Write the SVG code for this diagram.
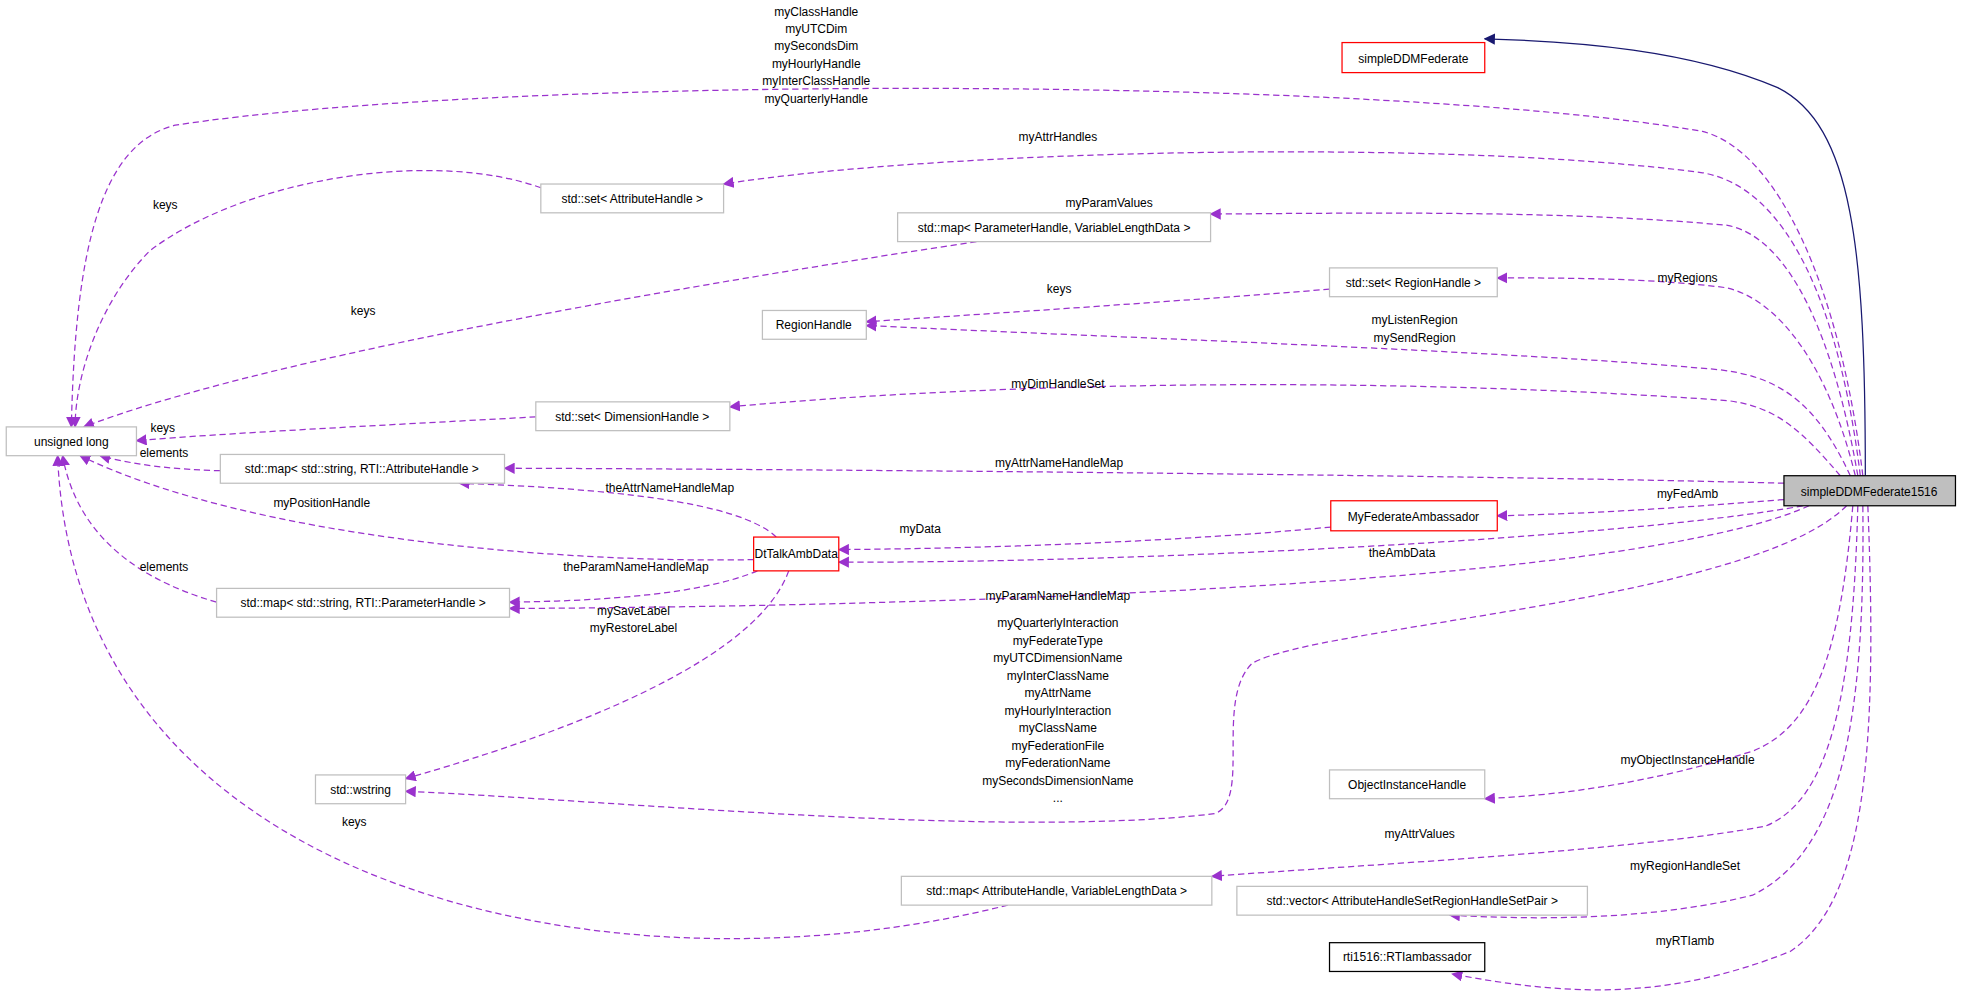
<svg xmlns="http://www.w3.org/2000/svg" width="1963" height="1002" viewBox="0 0 1963 1002">
<defs>
<marker id="ap" viewBox="0 0 10 10" refX="9" refY="5" markerWidth="9" markerHeight="9" orient="auto-start-reverse" markerUnits="userSpaceOnUse"><path d="M0,0 L10,5 L0,10 z" fill="#9a32cd"/></marker>
<marker id="an" viewBox="0 0 10 10" refX="9" refY="5" markerWidth="9" markerHeight="9" orient="auto" markerUnits="userSpaceOnUse"><path d="M0,0 L10,5 L0,10 z" fill="#191970"/></marker>
<style>
text{font-family:"Liberation Sans",Arial,sans-serif;font-size:9.6px;fill:#000}
.n rect{fill:#fff;stroke:#bfbfbf;stroke-width:1}
.r rect{stroke:#ff0000}
.b rect{stroke:#000}
.e path{fill:none;stroke:#9a32cd;stroke-width:1;stroke-dasharray:5,3;marker-end:url(#ap)}
.e path.inh{stroke:#191970;stroke-dasharray:none;marker-end:url(#an)}
.c{text-anchor:middle}
</style>
</defs>
<rect width="1963" height="1002" fill="#fff"/>
<g transform="scale(1.2519)">
<g id="edges" class="e">
<path class="inh" d="M1490,380 C1490,200 1480,100 1420,70 C1350,40 1260,33 1186,31"/>
<path d="M1488,380 C1470,230 1420,120 1360,105 C1100,60 400,60 140,100 C80,115 60,200 57,341"/>
<path d="M1486,380 C1470,250 1430,150 1360,138 C1150,110 750,120 578,147"/>
<path d="M1484,380 C1465,270 1430,190 1380,180 C1250,168 1100,170 967,171"/>
<path d="M1482,380 C1460,290 1420,240 1380,230 C1320,222 1250,222 1196,222"/>
<path d="M1478,380 C1450,320 1420,300 1370,295 C1200,280 900,270 692,260"/>
<path d="M1470,380 C1440,345 1420,325 1380,320 C1100,300 800,305 583,325"/>
<path d="M1425,386 C1200,380 700,375 403,374"/>
<path d="M1425,399 C1350,405 1280,410 1196,412"/>
<path d="M1440,404 C1300,430 900,450 670,449"/>
<path d="M1445,404 C1300,470 700,485 407,486"/>
<path d="M1475,404 C1400,480 1050,500 1000,530 C970,560 1000,640 970,650 C800,670 500,640 324,632"/>
<path d="M1480,404 C1470,520 1450,580 1400,600 C1320,625 1250,635 1186,638"/>
<path d="M1484,404 C1480,560 1460,640 1410,660 C1300,680 1100,690 968,700"/>
<path d="M1488,404 C1490,580 1470,680 1400,715 C1320,735 1230,735 1158,731"/>
<path d="M1492,404 C1500,600 1490,720 1430,760 C1330,800 1250,795 1160,778"/>
<path d="M1062,231 C950,240 800,250 692,257"/>
<path d="M1063,421 C950,432 800,438 670,439"/>
<path d="M620,429 C590,400 480,390 367,386"/>
<path d="M605,456 C560,475 480,480 407,481"/>
<path d="M602,447 C450,450 200,430 64,364"/>
<path d="M630,456 C600,540 400,600 324,622"/>
<path d="M432,150 C350,120 200,140 120,200 C80,240 60,300 60,341"/>
<path d="M780,193 C500,235 200,290 67,341"/>
<path d="M428,333 C300,340 180,346 109,352"/>
<path d="M176,376 C140,375 110,372 80,364"/>
<path d="M173,481 C100,460 60,420 50,364"/>
<path d="M805,723 C500,800 60,720 46,364"/>
</g>
<g id="labels">
<text class="c" x="652" y="13">myClassHandle</text>
<text class="c" x="652" y="26">myUTCDim</text>
<text class="c" x="652" y="40">mySecondsDim</text>
<text class="c" x="652" y="54">myHourlyHandle</text>
<text class="c" x="652" y="68">myInterClassHandle</text>
<text class="c" x="652" y="82">myQuarterlyHandle</text>
<text class="c" x="845" y="113">myAttrHandles</text>
<text class="c" x="132" y="167">keys</text>
<text class="c" x="886" y="165">myParamValues</text>
<text class="c" x="1348" y="225">myRegions</text>
<text class="c" x="846" y="234">keys</text>
<text class="c" x="290" y="252">keys</text>
<text class="c" x="1130" y="259">myListenRegion</text>
<text class="c" x="1130" y="273">mySendRegion</text>
<text class="c" x="845" y="310">myDimHandleSet</text>
<text class="c" x="130" y="345">keys</text>
<text class="c" x="131" y="365">elements</text>
<text class="c" x="846" y="373">myAttrNameHandleMap</text>
<text class="c" x="535" y="393">theAttrNameHandleMap</text>
<text class="c" x="1348" y="398">myFedAmb</text>
<text class="c" x="257" y="405">myPositionHandle</text>
<text class="c" x="735" y="426">myData</text>
<text class="c" x="1120" y="445">theAmbData</text>
<text class="c" x="131" y="456">elements</text>
<text class="c" x="508" y="456">theParamNameHandleMap</text>
<text class="c" x="845" y="479">myParamNameHandleMap</text>
<text class="c" x="506" y="491">mySaveLabel</text>
<text class="c" x="506" y="505">myRestoreLabel</text>
<text class="c" x="845" y="501">myQuarterlyInteraction</text>
<text class="c" x="845" y="515">myFederateType</text>
<text class="c" x="845" y="529">myUTCDimensionName</text>
<text class="c" x="845" y="543">myInterClassName</text>
<text class="c" x="845" y="557">myAttrName</text>
<text class="c" x="845" y="571">myHourlyInteraction</text>
<text class="c" x="845" y="585">myClassName</text>
<text class="c" x="845" y="599">myFederationFile</text>
<text class="c" x="845" y="613">myFederationName</text>
<text class="c" x="845" y="627">mySecondsDimensionName</text>
<text class="c" x="845" y="641">...</text>
<text class="c" x="1348" y="610">myObjectInstanceHandle</text>
<text class="c" x="283" y="660">keys</text>
<text class="c" x="1134" y="669">myAttrValues</text>
<text class="c" x="1346" y="695">myRegionHandleSet</text>
<text class="c" x="1346" y="755">myRTIamb</text>
</g>
<g id="n_simpleDDMFederate" class="n r"><rect x="1072" y="34" width="114" height="24"/><text class="c" x="1129" y="50">simpleDDMFederate</text></g>
<g id="n_simpleDDMFederate1516" class="n b"><rect x="1425" y="380" width="137" height="24" style="fill:#bfbfbf"/><text class="c" x="1493" y="396">simpleDDMFederate1516</text></g>
<g id="n_unsignedlong" class="n"><rect x="5" y="341" width="104" height="23"/><text class="c" x="57" y="356">unsigned long</text></g>
<g id="n_setAttr" class="n"><rect x="432" y="147" width="146" height="23"/><text class="c" x="505" y="162">std::set&lt; AttributeHandle &gt;</text></g>
<g id="n_mapParamVLD" class="n"><rect x="717" y="170" width="250" height="23"/><text class="c" x="842" y="185">std::map&lt; ParameterHandle, VariableLengthData &gt;</text></g>
<g id="n_setRegion" class="n"><rect x="1062" y="214" width="134" height="23"/><text class="c" x="1129" y="229">std::set&lt; RegionHandle &gt;</text></g>
<g id="n_RegionHandle" class="n"><rect x="609" y="248" width="83" height="23"/><text class="c" x="650" y="263">RegionHandle</text></g>
<g id="n_setDim" class="n"><rect x="428" y="321" width="155" height="23"/><text class="c" x="505" y="336">std::set&lt; DimensionHandle &gt;</text></g>
<g id="n_mapStrAttr" class="n"><rect x="176" y="363" width="227" height="23"/><text class="c" x="289" y="378">std::map&lt; std::string, RTI::AttributeHandle &gt;</text></g>
<g id="n_MyFedAmb" class="n r"><rect x="1063" y="400" width="133" height="24"/><text class="c" x="1129" y="416">MyFederateAmbassador</text></g>
<g id="n_DtTalkAmbData" class="n r"><rect x="602" y="429" width="68" height="27"/><text class="c" x="636" y="446">DtTalkAmbData</text></g>
<g id="n_mapStrParam" class="n"><rect x="173" y="470" width="234" height="23"/><text class="c" x="290" y="485">std::map&lt; std::string, RTI::ParameterHandle &gt;</text></g>
<g id="n_wstring" class="n"><rect x="252" y="619" width="72" height="23"/><text class="c" x="288" y="634">std::wstring</text></g>
<g id="n_ObjInst" class="n"><rect x="1062" y="615" width="124" height="23"/><text class="c" x="1124" y="630">ObjectInstanceHandle</text></g>
<g id="n_mapAttrVLD" class="n"><rect x="720" y="700" width="248" height="23"/><text class="c" x="844" y="715">std::map&lt; AttributeHandle, VariableLengthData &gt;</text></g>
<g id="n_vector" class="n"><rect x="988" y="708" width="280" height="23"/><text class="c" x="1128" y="723">std::vector&lt; AttributeHandleSetRegionHandleSetPair &gt;</text></g>
<g id="n_RTIamb" class="n b"><rect x="1062" y="753" width="124" height="23"/><text class="c" x="1124" y="768">rti1516::RTIambassador</text></g>
</g>
</svg>
